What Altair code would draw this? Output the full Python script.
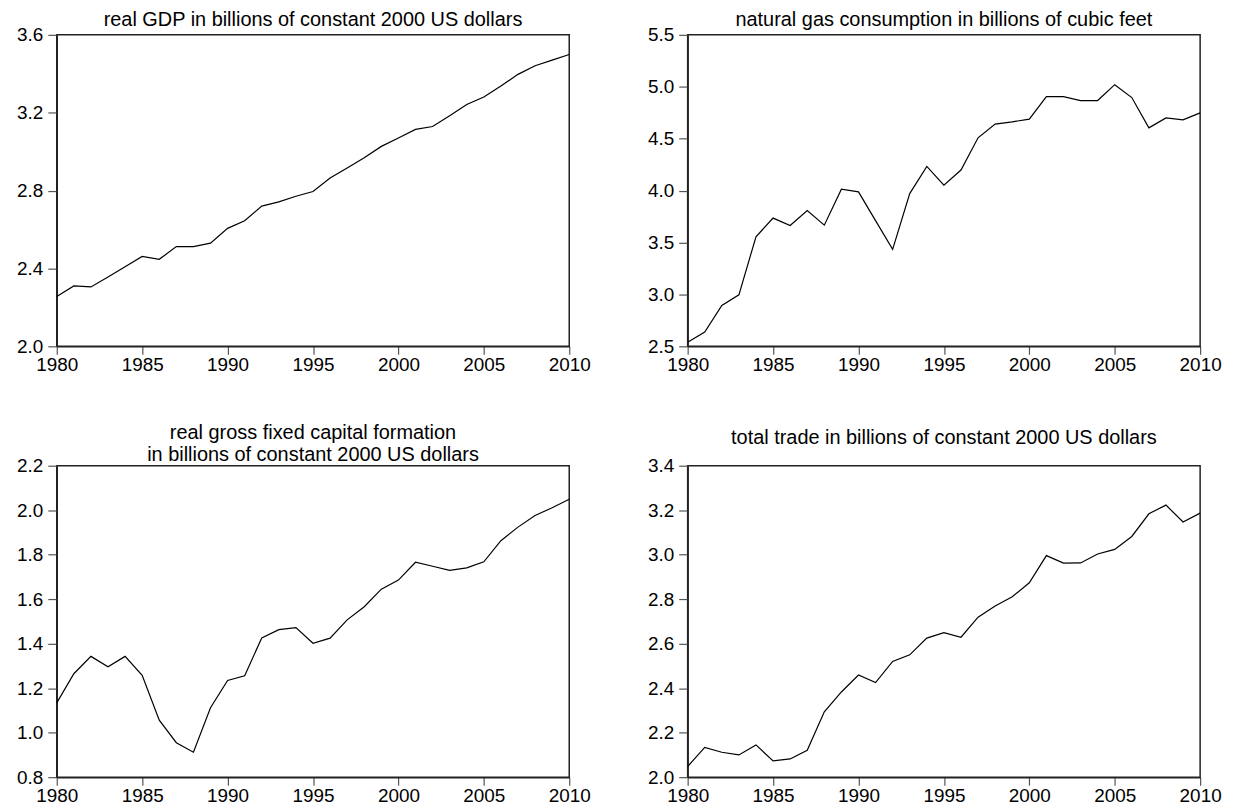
import altair as alt
import pandas as pd

years = list(range(1980, 2011))

gdp = [2.256, 2.31, 2.305, 2.356, 2.409, 2.462, 2.447, 2.512, 2.512, 2.530,
       2.606, 2.645, 2.72, 2.742, 2.771, 2.795, 2.865, 2.916, 2.969, 3.027,
       3.07, 3.114, 3.129, 3.184, 3.242, 3.281, 3.337, 3.397, 3.441, 3.47, 3.499]
gas = [2.538, 2.638, 2.893, 2.996, 3.555, 3.735, 3.664, 3.808, 3.667, 4.013,
       3.987, 3.71, 3.434, 3.971, 4.233, 4.051, 4.198, 4.508, 4.64, 4.662,
       4.688, 4.905, 4.905, 4.867, 4.867, 5.02, 4.896, 4.604, 4.70, 4.681, 4.748]
gfcf = [1.134, 1.265, 1.343, 1.296, 1.343, 1.258, 1.056, 0.955, 0.912, 1.112,
        1.235, 1.256, 1.426, 1.463, 1.472, 1.402, 1.425, 1.507, 1.566, 1.645,
        1.686, 1.766, 1.748, 1.73, 1.741, 1.768, 1.863, 1.924, 1.976, 2.011, 2.049]
trade = [2.048, 2.134, 2.112, 2.10, 2.145, 2.073, 2.082, 2.121, 2.294, 2.383,
         2.459, 2.425, 2.52, 2.55, 2.625, 2.65, 2.629, 2.719, 2.769, 2.811,
         2.874, 2.996, 2.962, 2.963, 3.003, 3.024, 3.082, 3.184, 3.223, 3.147, 3.187]

x_ticks = [1980, 1985, 1990, 1995, 2000, 2005, 2010]
gdp_ticks = [2.0, 2.4, 2.8, 3.2, 3.6]
gas_ticks = [2.5, 3.0, 3.5, 4.0, 4.5, 5.0, 5.5]
gfcf_ticks = [0.8, 1.0, 1.2, 1.4, 1.6, 1.8, 2.0, 2.2]
trade_ticks = [2.0, 2.2, 2.4, 2.6, 2.8, 3.0, 3.2, 3.4]

titles = [
    "real GDP in billions of constant 2000 US dollars",
    "natural gas consumption in billions of cubic feet",
    ["real gross fixed capital formation", "in billions of constant 2000 US dollars"],
    "total trade  in billions of constant 2000 US dollars",
]

FONT = "Liberation Sans"
LABEL_SIZE = 19
TITLE_SIZE = 20


def axis_style(**kw):
    return alt.Axis(title=None, labelFlush=False, grid=False,
                    labelFont=FONT, labelFontSize=LABEL_SIZE, labelColor="black",
                    domainColor="#222222", domainWidth=1.5,
                    tickColor="#555555", tickWidth=1.2, **kw)


def panel(values, ticks, title, offset):
    df = pd.DataFrame({"year": years, "value": values})
    return (
        alt.Chart(df)
        .mark_line(color="black", strokeWidth=1.2)
        .encode(
            x=alt.X(
                "year:Q",
                scale=alt.Scale(domain=[x_ticks[0], x_ticks[-1]], nice=False, zero=False),
                axis=axis_style(values=x_ticks, format="d", tickSize=8, labelPadding=1),
            ),
            y=alt.Y(
                "value:Q",
                scale=alt.Scale(domain=[ticks[0], ticks[-1]], nice=False, zero=False),
                axis=axis_style(values=ticks, format=".1f", tickSize=9, labelPadding=5),
            ),
        )
        .properties(
            width=515,
            height=313,
            title=alt.TitleParams(
                text=title, offset=offset, frame="group", anchor="middle",
                font=FONT, fontSize=TITLE_SIZE, fontWeight="normal", color="black",
                lineHeight=22,
            ),
        )
    )


p1 = panel(gdp, gdp_ticks, titles[0], -4)
p2 = panel(gas, gas_ticks, titles[1], -4)
p3 = panel(gfcf, gfcf_ticks, titles[2], -8)
p4 = panel(trade, trade_ticks, titles[3], 9)

chart = (
    alt.concat(p1, p2, p3, p4, columns=2, spacing={"row": 47, "column": 55})
    .properties(padding={"left": 7, "top": -1, "right": 5, "bottom": 0},
                background="white")
    .configure_view(stroke="#222222", strokeWidth=1.5)
)

chart.save("out.html", embed_options={"renderer": "svg", "actions": False})
